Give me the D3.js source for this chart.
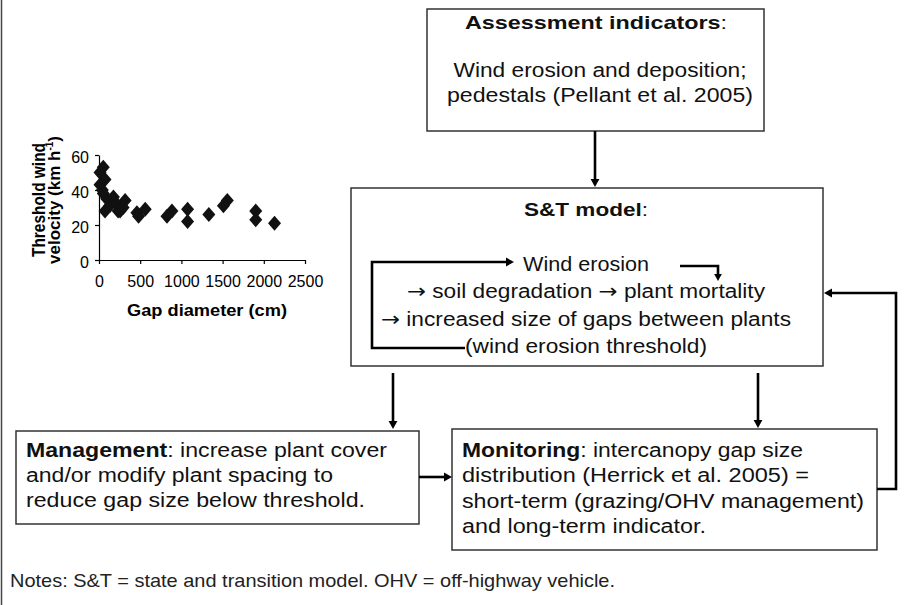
<!DOCTYPE html>
<html>
<head>
<meta charset="utf-8">
<script src="https://cdn.jsdelivr.net/npm/d3@7"></script>
<style>
  body { margin: 0; background: #fff; }
  svg { display: block; font-family: "Liberation Sans", Arial, sans-serif; }
</style>
</head>
<body>
<svg id="fig" width="913" height="605"></svg>
<script>
// scatter: threshold wind velocity against gap diameter
const gapDiameter =       [52, 12, 73, 12, 40, 52, 94, 73, 130, 175, 215, 232, 256, 317, 293, 460, 480, 561, 825, 885, 1075, 1075, 1333, 1510, 1557, 1902, 1902, 2130];
const thresholdVelocity = [53, 50, 46, 43, 40, 38, 35, 28, 31,  36,  32,  28,  28,  34,  30,  27,  25,  29,  25,  28,  29,   22,   26,   31,   34,   28,   23,   21];
const xTicks = [0, 500, 1000, 1500, 2000, 2500];
const yTicks = [0, 20, 40, 60];

// flow chart texts
const assessTitle = ["Assessment indicators", ":"];
const assessLines = ["Wind erosion and deposition;", "pedestals (Pellant et al. 2005)"];
const modelTitle = ["S&T model", ":"];
const modelLines = ["Wind erosion",
  "\u2192 soil degradation \u2192 plant mortality",
  "\u2192 increased size of gaps between plants",
  "(wind erosion threshold)"];
const managementLines = [["Management", ": increase plant cover"],
  ["", "and/or modify plant spacing to"],
  ["", "reduce gap size below threshold."]];
const monitoringLines = [["Monitoring", ": intercanopy gap size"],
  ["", "distribution (Herrick et al. 2005) ="],
  ["", "short-term (grazing/OHV management)"],
  ["", "and long-term indicator."]];
const noteText = "Notes: S&T = state and transition model. OHV = off-highway vehicle.";

const svg = d3.select("#fig");

// left page rule
svg.append("line").attr("x1", 1.5).attr("x2", 1.5).attr("y1", 0).attr("y2", 605)
  .attr("stroke", "#444").attr("stroke-width", 1.5);

// ---------- scatter plot ----------
const x = d3.scaleLinear().domain([0, 2500]).range([99, 305]);
const y = d3.scaleLinear().domain([0, 60]).range([260, 155]);

const xAxis = svg.append("g").attr("transform", "translate(0,260)")
  .call(d3.axisBottom(x).tickValues(xTicks).tickFormat(d3.format("d"))
    .tickSize(4).tickSizeOuter(0).tickPadding(12));
const yAxis = svg.append("g").attr("transform", "translate(99,0)")
  .call(d3.axisLeft(y).tickValues(yTicks).tickSize(4).tickSizeOuter(0).tickPadding(6));
[xAxis, yAxis].forEach(g => {
  g.selectAll("path, line").attr("stroke", "#000").attr("stroke-width", 1.2);
  g.selectAll("text").attr("fill", "#000").style("font-size", "16px")
    .style("font-family", "'Liberation Sans', Arial, sans-serif");
});
yAxis.selectAll("text").attr("dy", "0.45em");

const pts = gapDiameter.map((g, i) => [g, thresholdVelocity[i]]);
svg.append("g").selectAll("path").data(pts).join("path")
  .attr("transform", d => `translate(${x(d[0])},${y(d[1])})`)
  .attr("d", "M0,-7.5L6.5,0L0,7.5L-6.5,0Z")
  .attr("fill", "#111");

svg.append("text").attr("x", 207).attr("y", 316).attr("text-anchor", "middle")
  .attr("font-weight", "bold").attr("font-size", 16).attr("textLength", 160)
  .attr("lengthAdjust", "spacingAndGlyphs").text("Gap diameter (cm)");

svg.append("text").attr("transform", "translate(45,200) rotate(-90)")
  .attr("text-anchor", "middle").attr("font-weight", "bold").attr("font-size", 18)
  .attr("textLength", 114).attr("lengthAdjust", "spacingAndGlyphs").text("Threshold wind");
const yl2 = svg.append("text").attr("transform", "translate(60,200) rotate(-90)")
  .attr("text-anchor", "middle").attr("font-weight", "bold").attr("font-size", 17);
yl2.append("tspan").text("velocity (km h");
yl2.append("tspan").attr("font-size", 10).attr("dy", -7).text("-1");
yl2.append("tspan").attr("dy", 7).text(")");

// ---------- flow chart ----------
function box(x0, y0, x1, y1) {
  svg.append("rect").attr("x", x0).attr("y", y0).attr("width", x1 - x0).attr("height", y1 - y0)
    .attr("fill", "none").attr("stroke", "#333").attr("stroke-width", 1.5);
}

// bold lead word, then plain text; arrow glyphs set in DejaVu so they read larger
function mixedText(xp, yp, parts, anchor, size, width) {
  const t = svg.append("text").attr("x", xp).attr("y", yp).attr("text-anchor", anchor)
    .attr("font-size", size).attr("fill", "#111");
  if (parts[0]) t.append("tspan").attr("font-weight", "bold").text(parts[0]);
  parts[1].split(/(\u2192)/).forEach(chunk => {
    if (!chunk) return;
    const ts = t.append("tspan").text(chunk);
    if (chunk === "\u2192") ts.style("font-family", "'DejaVu Sans', sans-serif");
  });
  if (width) t.attr("textLength", width).attr("lengthAdjust", "spacingAndGlyphs");
  return t;
}

function arrow(points, head = 8) {
  const n = points.length;
  const [ax, ay] = points[n - 2], [bx, by] = points[n - 1];
  const len = Math.hypot(bx - ax, by - ay), ux = (bx - ax) / len, uy = (by - ay) / len;
  const line = points.slice(0, n - 1).concat([[bx - ux * head, by - uy * head]]);
  svg.append("path").attr("d", d3.line()(line)).attr("fill", "none")
    .attr("stroke", "#000").attr("stroke-width", 2.6).attr("stroke-linejoin", "miter");
  const px = -uy, py = ux, w = head * 0.55;
  svg.append("path")
    .attr("d", `M${bx},${by}L${bx - ux * head + px * w},${by - uy * head + py * w}L${bx - ux * head - px * w},${by - uy * head - py * w}Z`)
    .attr("fill", "#000");
}

// assessment indicators
box(427, 9, 764, 131);
mixedText(596, 29, assessTitle, "middle", 19, 262);
const assessW = [293, 306];
assessLines.forEach((s, i) => mixedText(600, 77 + i * 25, ["", s], "middle", 20, assessW[i]));
arrow([[595, 131], [595, 187]]);

// S&T model
box(351, 188, 823, 366);
mixedText(586, 216, modelTitle, "middle", 19, 124);
const modelW = [126, 358, 410, 242];
modelLines.forEach((s, i) => mixedText(586, 271 + i * 27.4, ["", s], "middle", 20, modelW[i]));
arrow([[465, 348], [372, 348], [372, 262], [514, 262]]);
arrow([[680, 266], [718, 266], [718, 281]], 7);

// arrows down to management and monitoring
arrow([[393, 373], [393, 429]]);
arrow([[758, 373], [758, 428]]);

// management
box(16, 431, 419, 524);
const mgmtW = [361, 307, 339];
managementLines.forEach((p, i) => mixedText(26, 457 + i * 25, p, "start", 20, mgmtW[i]));
arrow([[419, 477], [452, 477]]);

// monitoring
box(452, 429, 877, 550);
const monW = [341, 347, 402, 244];
monitoringLines.forEach((p, i) => mixedText(462, 457 + i * 25.3, p, "start", 20, monW[i]));
arrow([[877, 489], [896, 489], [896, 293], [824, 293]]);

// note
svg.append("text").attr("x", 10).attr("y", 587).attr("font-size", 19).attr("fill", "#222")
  .attr("textLength", 605).attr("lengthAdjust", "spacingAndGlyphs").text(noteText);
</script>
</body>
</html>
